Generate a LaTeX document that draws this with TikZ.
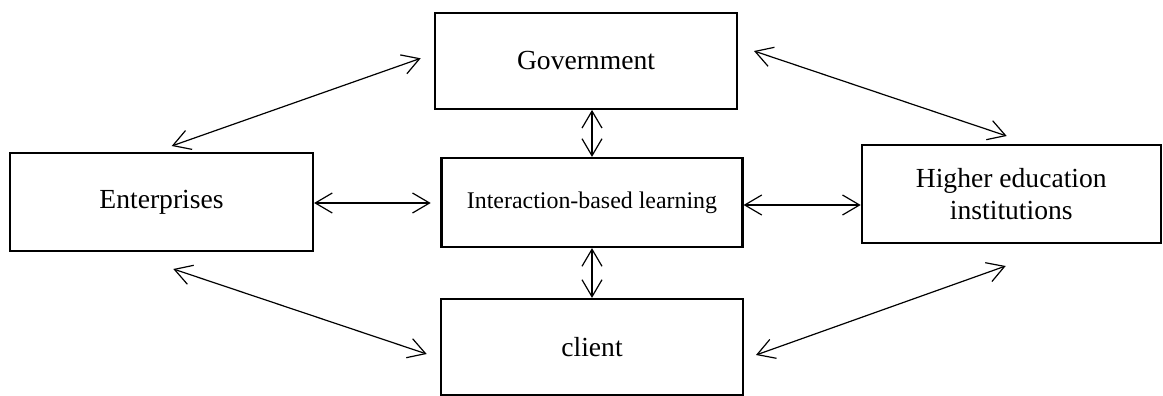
\documentclass[tikz,border=0pt]{standalone}
\usepackage{fontspec}
\setmainfont{Liberation Serif}
\usetikzlibrary{arrows.meta}

\tikzset{
  box/.style={draw=black, line width=2.2pt, fill=white, inner sep=0pt,
    align=center, font=\fontsize{27.6}{31.4}\selectfont},
  smalltext/.style={font=\fontsize{23.9}{27}\selectfont},
  link/.style={line width=1.2pt,
    {Straight Barb[length=17pt,width=20pt,line width=1.2pt]}-{Straight Barb[length=17pt,width=20pt,line width=1.2pt]}}
}

\begin{document}
\begin{tikzpicture}[x=1pt,y=-1pt]
  % canvas
  \fill[white] (0,0) rectangle (1163,396);
  \useasboundingbox (0,0) rectangle (1163,396);

  % actors
  \node[box, minimum width=302pt, minimum height=96pt] (gov) at (586,60.8) {Government};
  \node[box, minimum width=303pt, minimum height=98pt] (ent) at (161.5,202) {Enterprises};
  \node[box, smalltext, minimum width=301pt, minimum height=89pt] (inter) at (592,202.5) {Interaction-based learning};
  \node[box, minimum width=299pt, minimum height=98pt] (hei) at (1011.3,194) {Higher education\\institutions};
  \node[box, minimum width=302pt, minimum height=96pt] (cli) at (592,347) {client};

  % free ends of the diagonal links
  \coordinate (entTop) at (171.7,146);
  \coordinate (govLeft) at (420.7,58.3);
  \coordinate (govRight) at (754,51);
  \coordinate (heiTop) at (1006.7,136);
  \coordinate (entBottom) at (173.3,269);
  \coordinate (cliLeft) at (426.7,354);
  \coordinate (heiBottom) at (1005.7,266);
  \coordinate (cliRight) at (756,355);

  % links to the central node
  \draw[link] (inter.north) -- (inter.north |- gov.south);
  \draw[link] (inter.south) -- (cli.north);
  \draw[link, shorten >=9.7pt] ([yshift=-1pt]ent.east) -- ([yshift=-1pt]ent.east -| inter.west);
  \draw[link] ([yshift=-2.5pt]inter.east) -- ([yshift=-2.5pt]inter.east -| hei.west);

  % links between the outer actors
  \draw[link] (entTop) -- (govLeft);
  \draw[link] (govRight) -- (heiTop);
  \draw[link] (entBottom) -- (cliLeft);
  \draw[link] (heiBottom) -- (cliRight);
\end{tikzpicture}
\end{document}
